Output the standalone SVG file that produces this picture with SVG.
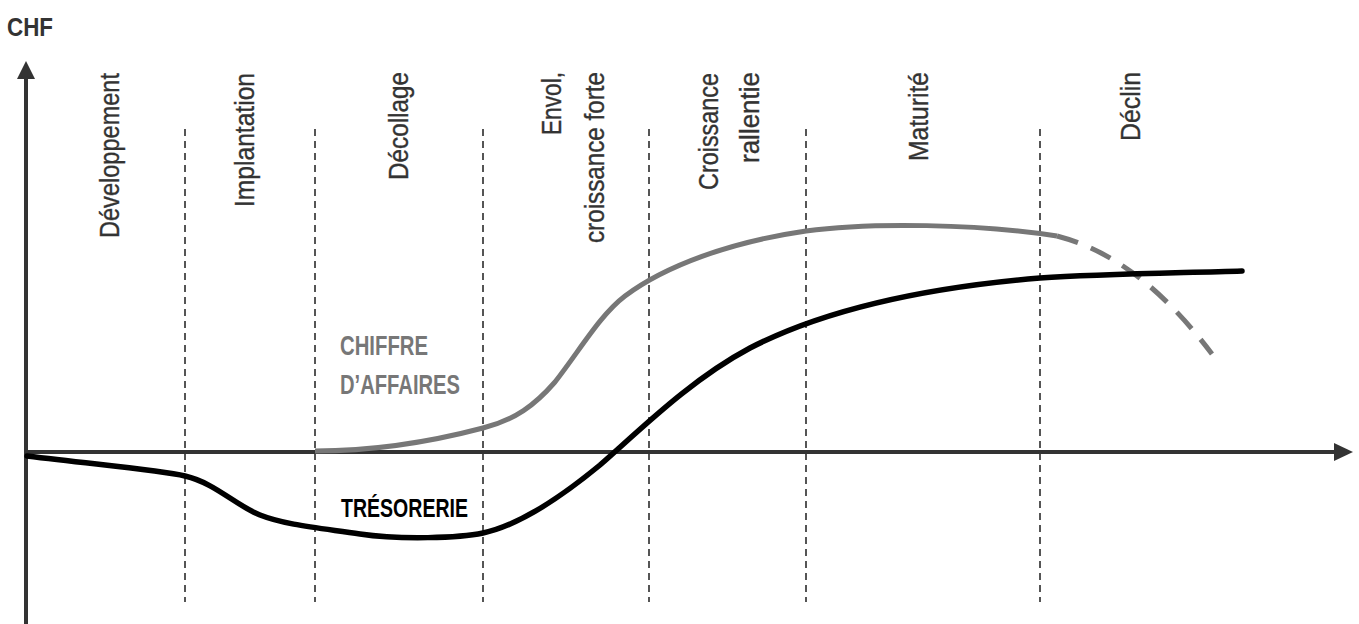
<svg xmlns="http://www.w3.org/2000/svg" width="1359" height="624" viewBox="0 0 1359 624">
<style>
.lbl{font-family:"Liberation Sans","Arial",sans-serif;font-size:27px;fill:#333;stroke:#333;stroke-width:0.35;text-anchor:end}
.sep{stroke:#555;stroke-width:2;stroke-dasharray:7 5;fill:none}
.axis{stroke:#333;stroke-width:4;fill:none}
.head{fill:#333}
.ca{stroke:#777;stroke-width:5;fill:none;stroke-linecap:butt}
.tr{stroke:#000;stroke-width:5.5;fill:none;stroke-linecap:round}
.cat{font-family:"Liberation Sans","Arial",sans-serif;font-size:28px;font-weight:bold;fill:#777}
</style>
<rect width="1359" height="624" fill="#fff"/>
<g id="phases">
<line class="sep" x1="185" y1="129" x2="185" y2="602"/>
<line class="sep" x1="315" y1="129" x2="315" y2="602"/>
<line class="sep" x1="483" y1="129" x2="483" y2="602"/>
<line class="sep" x1="649" y1="129" x2="649" y2="602"/>
<line class="sep" x1="806" y1="129" x2="806" y2="602"/>
<line class="sep" x1="1040" y1="129" x2="1040" y2="602"/>
</g>
<g id="labels">
<text class="lbl" transform="translate(119,73) rotate(-90)" textLength="165" lengthAdjust="spacingAndGlyphs">Développement</text>
<text class="lbl" transform="translate(254,73) rotate(-90)" textLength="134" lengthAdjust="spacingAndGlyphs">Implantation</text>
<text class="lbl" transform="translate(408,72) rotate(-90)" textLength="108" lengthAdjust="spacingAndGlyphs">Décollage</text>
<text class="lbl" transform="translate(561,72) rotate(-90)" textLength="63" lengthAdjust="spacingAndGlyphs">Envol,</text>
<text class="lbl" transform="translate(604,72) rotate(-90)" textLength="171" lengthAdjust="spacingAndGlyphs">croissance forte</text>
<text class="lbl" transform="translate(718,73) rotate(-90)" textLength="117" lengthAdjust="spacingAndGlyphs">Croissance</text>
<text class="lbl" transform="translate(759,72) rotate(-90)" textLength="91" lengthAdjust="spacingAndGlyphs">rallentie</text>
<text class="lbl" transform="translate(928,72) rotate(-90)" textLength="89" lengthAdjust="spacingAndGlyphs">Maturité</text>
<text class="lbl" transform="translate(1140,72) rotate(-90)" textLength="69" lengthAdjust="spacingAndGlyphs">Déclin</text>
</g>
<g id="axes">
<line class="axis" x1="26" y1="76" x2="26" y2="624"/>
<polygon class="head" points="26,61 17,79 35,79"/>
<line class="axis" x1="26" y1="452" x2="1337" y2="452"/>
<polygon class="head" points="1353,452 1334,443 1334,461"/>
<text id="chf" x="7" y="36" font-family="Liberation Sans, Arial, sans-serif" font-size="26" font-weight="bold" fill="#333" textLength="46" lengthAdjust="spacingAndGlyphs">CHF</text>
</g>
<g id="connectors">
<path id="chiffre-affaires" class="ca" d="M315 451 C370 451 430 442 483 428 C515 420 535 405 555 382 C580 350 600 315 625 296 C665 266 730 242 806 231 C870 222 980 224 1057 236"/>
<path id="chiffre-affaires-declin" class="ca" stroke-dasharray="22 14" d="M1057 236 C1110 250 1160 285 1212 354"/>
<path id="tresorerie" class="tr" d="M27 456 C100 465 160 470 185 476 C215 483 235 505 260 515 C285 525 320 528 360 534 C400 540 460 538 483 533 C520 525 560 498 600 465 C640 430 690 380 750 348 C820 312 920 288 1040 278 C1100 274 1180 273 1242 271"/>
</g>
<g id="curve-labels">
<text class="cat" x="340" y="355" textLength="88" lengthAdjust="spacingAndGlyphs">CHIFFRE</text>
<text class="cat" x="340" y="394" textLength="120" lengthAdjust="spacingAndGlyphs">D’AFFAIRES</text>
<text x="341" y="517" font-family="Liberation Sans, Arial, sans-serif" font-size="25" font-weight="bold" fill="#000" textLength="127" lengthAdjust="spacingAndGlyphs">TRÉSORERIE</text>
</g>
</svg>
